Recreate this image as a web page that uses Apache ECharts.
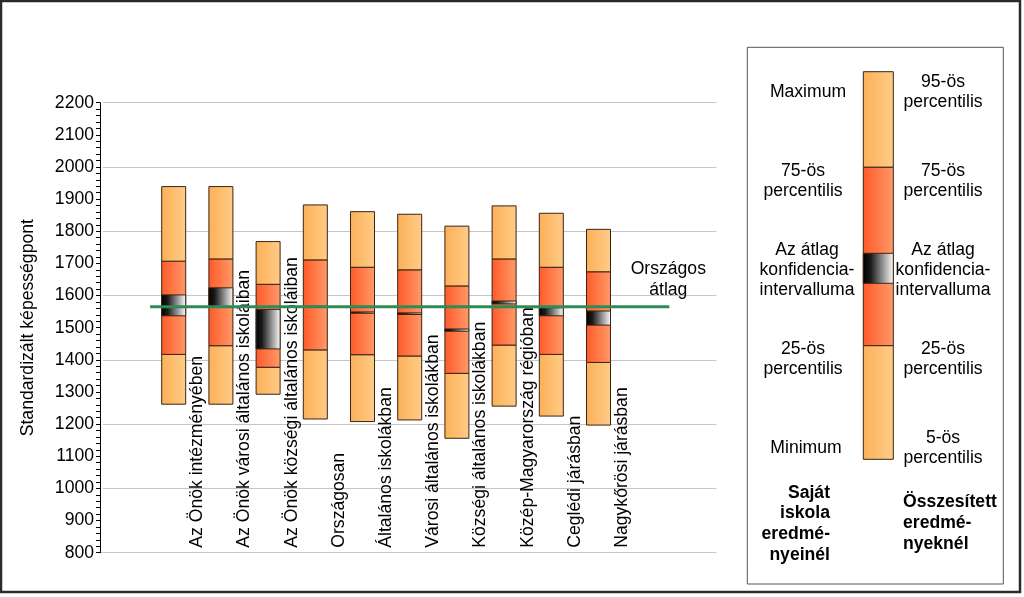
<!DOCTYPE html>
<html><head><meta charset="utf-8">
<script src="https://cdn.jsdelivr.net/npm/echarts@6/dist/echarts.min.js"></script>
<style>html,body{margin:0;padding:0;background:#fff}#c{width:1024px;height:597px}</style>
</head><body><div id="c"></div>
<script>
// ---- data ----
const categories = ['Az Önök intézményében', 'Az Önök városi általános iskoláiban', 'Az Önök községi általános iskoláiban', 'Országosan', 'Általános iskolákban', 'Városi általános iskolákban', 'Községi általános iskolákban', 'Közép-Magyarország régióban', 'Ceglédi járásban', 'Nagykőrösi járásban'];
const minVals  = [1262, 1262, 1293, 1216, 1208, 1213, 1156, 1256, 1225, 1197];
const q1Vals   = [1417, 1444, 1377, 1431, 1416, 1412, 1358, 1446, 1417, 1392];
const ciLow    = [1537, 1565, 1434, 1563, 1545, 1541, 1489, 1574, 1537, 1508];
const ciHigh   = [1602, 1624, 1557, 1567, 1549, 1546, 1496, 1583, 1562, 1552];
const q3Vals   = [1707, 1714, 1635, 1711, 1688, 1680, 1630, 1714, 1688, 1674];
const maxVals  = [1939, 1939, 1768, 1882, 1861, 1853, 1816, 1879, 1856, 1806];
const nationalAvg = 1565;
const yMin = 800, yMax = 2200, yStep = 100, gridStep = 200;
const slots = [''].concat(categories, ['', '']);

const FF = "'Liberation Sans', Arial, sans-serif";
const FONT = "17.6px " + FF;
const BFONT = "bold 17.6px " + FF;
const lightGrad = () => new echarts.graphic.LinearGradient(0, 0, 1, 0, [{offset: 0, color: '#fcb057'}, {offset: 1, color: '#ffcc88'}]);
const darkGrad = () => new echarts.graphic.LinearGradient(0, 0, 1, 0, [{offset: 0, color: '#ff5a28'}, {offset: 1, color: '#ff9a6a'}]);
const ciGrad = () => new echarts.graphic.LinearGradient(0, 0, 1, 0, [{offset: 0, color: '#000000'}, {offset: 0.25, color: '#1a1a1a'}, {offset: 1, color: '#ffffff'}]);
const STROKE = '#3a2414';

const boxData = categories.map((c, i) => [i + 1, minVals[i], q1Vals[i], ciLow[i], ciHigh[i], q3Vals[i], maxVals[i]]);

function renderBox(params, api) {
  const x = api.value(0);
  const cx = api.coord([x, yMin])[0];
  const band = api.size([1, 0])[0];
  const w = 24;
  const y = k => api.coord([x, api.value(k)])[1];
  const seg = (a, b, fill) => ({
    type: 'rect',
    shape: {x: cx - w / 2, y: y(b), width: w, height: y(a) - y(b)},
    style: {fill: fill, stroke: STROKE, lineWidth: 1}
  });
  const base = api.coord([x, yMin])[1];
  return {type: 'group', children: [
    seg(1, 2, lightGrad()),
    seg(2, 5, darkGrad()),
    seg(5, 6, lightGrad()),
    seg(3, 4, ciGrad()),
    {type: 'text', x: cx + band / 2, y: base - 5, rotation: Math.PI / 2,
     style: {text: slots[x], font: FONT, fill: '#000', textAlign: 'left', textVerticalAlign: 'middle'}}
  ]};
}

function renderAvg(params, api) {
  const v = api.value(1);
  const band = api.size([1, 0])[0];
  const p1 = api.coord([1, v]);
  const p2 = api.coord([slots.length - 2, v]);
  const x1 = p1[0] - band / 2, x2 = p2[0] + band / 2;
  return {type: 'group', children: [
    {type: 'line', shape: {x1: x1, y1: p1[1], x2: x2, y2: p1[1]}, style: {stroke: '#2e8b57', lineWidth: 3}},
    {type: 'text', x: x2 - 1, y: p1[1] - 27,
     style: {text: 'Országos\nátlag', font: FONT, lineHeight: 21, fill: '#000', textAlign: 'center', textVerticalAlign: 'middle'}}
  ]};
}

// legend graphics
const LX = 863.3, LW = 30;
const legendRect = (y1, y2, fill) => ({type: 'rect', shape: {x: LX, y: y1, width: LW, height: y2 - y1}, style: {fill: fill, stroke: STROKE, lineWidth: 1}});
const ltext = (x, y, text, align, bold) => ({type: 'text', x: x, y: y,
  style: {text: text, font: bold ? BFONT : FONT, lineHeight: bold ? 20.8 : 20, fill: '#000', textAlign: align || 'center', textVerticalAlign: 'middle'}});

const chart = echarts.init(document.getElementById('c'), null, {renderer: 'canvas'});
chart.setOption({
  animation: false,
  backgroundColor: '#ffffff',
  grid: {left: 102.9, right: 307.5, top: 102.7, bottom: 44.3},
  xAxis: {type: 'category', data: slots, boundaryGap: true,
    axisLine: {show: false}, axisTick: {show: false}, axisLabel: {show: false}, splitLine: {show: false}},
  yAxis: [
    {type: 'value', min: yMin, max: yMax, interval: yStep, offset: 2.9,
      name: 'Standardizált képességpont', nameLocation: 'middle', nameGap: 63, nameRotate: 90,
      nameTextStyle: {fontFamily: FF, fontSize: 17.6, color: '#000'},
      axisLine: {show: true, lineStyle: {color: '#000', width: 1}},
      axisTick: {show: true, length: 4, lineStyle: {color: '#000'}},
      minorTick: {show: true, splitNumber: 5, length: 4, lineStyle: {color: '#000'}},
      axisLabel: {margin: 6, fontFamily: FF, fontSize: 17.6, color: '#000', formatter: v => String(v)},
      splitLine: {show: false}},
    {type: 'value', min: yMin, max: yMax, interval: gridStep, position: 'left',
      axisLine: {show: false}, axisTick: {show: false}, axisLabel: {show: false},
      splitLine: {show: true, lineStyle: {color: '#c6c6c6', width: 1}}}
  ],
  series: [
    {type: 'custom', renderItem: renderBox, data: boxData, encode: {x: 0, y: [1, 6]}, z: 2},
    {type: 'custom', renderItem: renderAvg, data: [[1, nationalAvg]], encode: {x: 0, y: 1}, z: 3}
  ],
  graphic: [
    {type: 'line', shape: {x1: 100, y1: 552.7, x2: 102.9, y2: 552.7}, style: {stroke: '#c6c6c6', lineWidth: 1}},
    {type: 'rect', shape: {x: 1, y: 1, width: 1019, height: 591}, style: {fill: 'none', stroke: '#2b2b2b', lineWidth: 2.5}, z: 10},
    {type: 'rect', shape: {x: 747.3, y: 47.3, width: 256, height: 536.7}, style: {fill: '#fff', stroke: '#555', lineWidth: 1}},
    legendRect(71.7, 167.3, lightGrad()),
    legendRect(167.3, 345.7, darkGrad()),
    legendRect(345.7, 459.3, lightGrad()),
    legendRect(253.3, 283.3, ciGrad()),
    ltext(808, 91.7, 'Maximum'),
    ltext(943, 91.7, '95-ös\npercentilis'),
    ltext(803, 181, '75-ös\npercentilis'),
    ltext(943, 181, '75-ös\npercentilis'),
    ltext(807, 270, 'Az átlag\nkonfidencia-\nintervalluma'),
    ltext(943, 270, 'Az átlag\nkonfidencia-\nintervalluma'),
    ltext(803, 359.3, '25-ös\npercentilis'),
    ltext(943, 359.3, '25-ös\npercentilis'),
    ltext(806, 447.7, 'Minimum'),
    ltext(943, 448.3, '5-ös\npercentilis'),
    ltext(830, 524, 'Saját\niskola\neredmé-\nnyeinél', 'right', true),
    ltext(903, 523.3, 'Összesített\neredmé-\nnyeknél', 'left', true)
  ]
});
</script></body></html>
